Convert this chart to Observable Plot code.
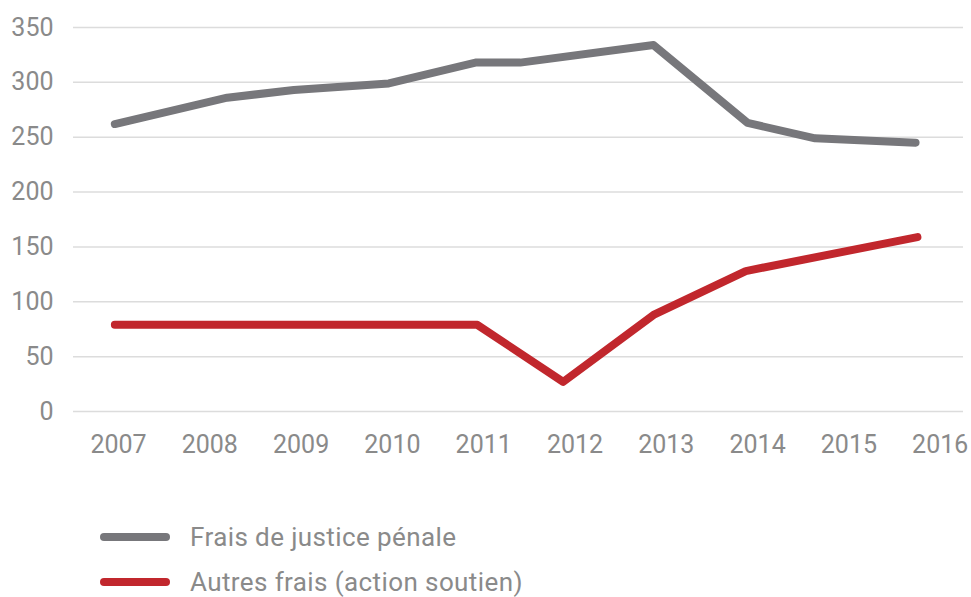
<!DOCTYPE html>
<html>
<head>
<meta charset="utf-8">
<script src="https://cdn.jsdelivr.net/npm/d3@7"></script>
<script src="https://cdn.jsdelivr.net/npm/@observablehq/plot@0.6"></script>
<style>
  html, body { margin: 0; padding: 0; background: #fff; }
  body { width: 971px; height: 597px; overflow: hidden; font-family: Roboto, "Noto Sans", sans-serif; }
  #legend { position: relative; height: 117px; }
  .row { position: absolute; left: 100px; display: flex; align-items: center; }
  .sw { width: 70px; height: 8px; border-radius: 4px; margin-right: 20px; }
  .lbl { font-size: 26px; color: #8a8a8a; line-height: 1; letter-spacing: 0.4px; }
</style>
</head>
<body>
<div id="chart"></div>
<div id="legend"></div>
<script>
// Data (x positions in year units as drawn)
const seriesNames = ["Frais de justice pénale", "Autres frais (action soutien)"];
const seriesColors = ["#77777b", "#c1272d"];

const penaleX = [2006.96, 2008.19, 2008.92, 2009.96, 2010.91, 2011.40, 2012.86, 2013.89, 2014.63, 2015.73];
const penaleY = [262, 286, 293, 299, 318, 318, 334, 263, 249, 245];

const autresX = [2006.96, 2010.93, 2011.87, 2012.86, 2013.87, 2015.75];
const autresY = [79, 79, 27, 88, 128, 159];

const yTicks = [0, 50, 100, 150, 200, 250, 300, 350];
const xTicks = [2007, 2008, 2009, 2010, 2011, 2012, 2013, 2014, 2015, 2016];

const penale = penaleX.map((x, i) => ({x, y: penaleY[i]}));
const autres = autresX.map((x, i) => ({x, y: autresY[i]}));

const chart = Plot.plot({
  width: 971,
  height: 480,
  marginTop: 27,
  marginBottom: 69,
  marginLeft: 73,
  marginRight: 8,
  style: {fontFamily: "Roboto, sans-serif", fontSize: "25px", color: "#8a8a8a", background: "#fff"},
  x: {domain: [2006.507, 2016.255], ticks: xTicks, tickFormat: d => String(d), tickSize: 0, tickPadding: 24, label: null},
  y: {domain: [0, 350], ticks: yTicks, tickSize: 0, tickPadding: 20, label: null},
  marks: [
    Plot.ruleY(yTicks, {stroke: "#dcdcdc", strokeWidth: 1.5}),
    Plot.line(penale, {x: "x", y: "y", stroke: seriesColors[0], strokeWidth: 8, strokeLinecap: "round", strokeLinejoin: "round"}),
    Plot.line(autres, {x: "x", y: "y", stroke: seriesColors[1], strokeWidth: 8, strokeLinecap: "round", strokeLinejoin: "round"})
  ]
});
document.getElementById("chart").appendChild(chart);

const legend = document.getElementById("legend");
const rowCenters = [57, 102];
seriesNames.forEach((name, i) => {
  const row = document.createElement("div");
  row.className = "row";
  row.style.top = (rowCenters[i] - 12) + "px";
  row.style.height = "24px";
  const sw = document.createElement("div");
  sw.className = "sw";
  sw.style.background = seriesColors[i];
  const lbl = document.createElement("div");
  lbl.className = "lbl";
  lbl.textContent = name;
  row.appendChild(sw);
  row.appendChild(lbl);
  legend.appendChild(row);
});
</script>
</body>
</html>
